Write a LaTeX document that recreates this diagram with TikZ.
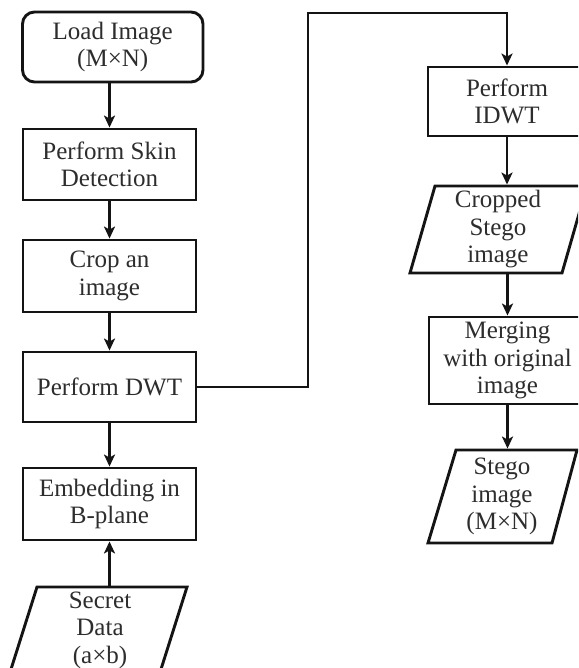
\documentclass[tikz,border=0pt]{standalone}
\usepackage{fontspec}
\setmainfont{Liberation Serif}
\usetikzlibrary{arrows.meta}
\definecolor{txtc}{RGB}{45,45,45}
\definecolor{linec}{RGB}{20,20,20}
\begin{document}
\begin{tikzpicture}[x=1pt,y=-1pt,
  line width=2.9pt,
  box/.style={draw=linec, rectangle, align=center, inner sep=0pt,
    font=\fontsize{25}{27.5}\selectfont, text=txtc},
  ptext/.style={rectangle, align=center, inner sep=0pt, draw=none,
    font=\fontsize{25}{27.5}\selectfont, text=txtc},
  shp/.style={draw=linec},
  arr/.style={draw=linec, -{Stealth[length=12pt,width=11pt,inset=3pt]}}
]
\useasboundingbox (0,0) rectangle (578,668);
\clip (0,0) rectangle (578,668);
\fill[white] (0,0) rectangle (578,668);

% left column
\node[box, rounded corners=12pt, minimum width=180.5pt, minimum height=70pt] (load) at (112.75,47) {Load Image\\(M×N)};
\node[box, minimum width=173pt, minimum height=71pt] (skin) at (109.5,164.5) {Perform Skin\\Detection};
\node[box, minimum width=173pt, minimum height=72pt] (crop) at (109.5,276) {Crop an\\image};
\node[box, minimum width=173pt, minimum height=70pt] (dwt) at (109.5,387) {Perform DWT};
\node[box, minimum width=173pt, minimum height=72pt] (emb) at (109.5,504) {Embedding in\\B-plane};

% secret data parallelogram
\draw[shp] (37,587) -- (187,587) -- (157.6,680) -- (7.6,680) -- cycle;
\node[ptext, minimum height=86pt] (secret) at (100,630) {Secret\\Data\\(a×b)};

% right column
\node[box, minimum width=158pt, minimum height=69pt] (idwt) at (507,101.5) {Perform\\IDWT};

\draw[shp] (435,186) -- (587,186) -- (562,273) -- (410,273) -- cycle;
\node[ptext, minimum height=87pt] (cstego) at (498,229.5) {Cropped\\Stego\\image};

\node[box, minimum width=157pt, minimum height=87pt] (merge) at (507.5,360.5) {Merging\\with original\\image};

\draw[shp] (456,450) -- (577,450) -- (552,543) -- (428,543) -- cycle;
\node[ptext, minimum height=93pt] (stego) at (502,496.5) {Stego\\image\\(M×N)};

% connectors
\draw[arr] (load.south -| skin.north) -- (skin.north);
\draw[arr] (skin.south) -- (crop.north);
\draw[arr] (crop.south) -- (dwt.north);
\draw[arr] (dwt.south) -- (emb.north);
\draw[arr] (secret.north -| emb.south) -- (emb.south);

\coordinate (turn) at (308,13);
\draw[arr] (dwt.east) -| (turn) -| (idwt.north);

\draw[arr] (idwt.south) -- (cstego.north -| idwt.south);
\draw[arr] (cstego.south -| merge.north) -- (merge.north);
\draw[arr] (merge.south) -- (stego.north -| merge.south);
\end{tikzpicture}
\end{document}
